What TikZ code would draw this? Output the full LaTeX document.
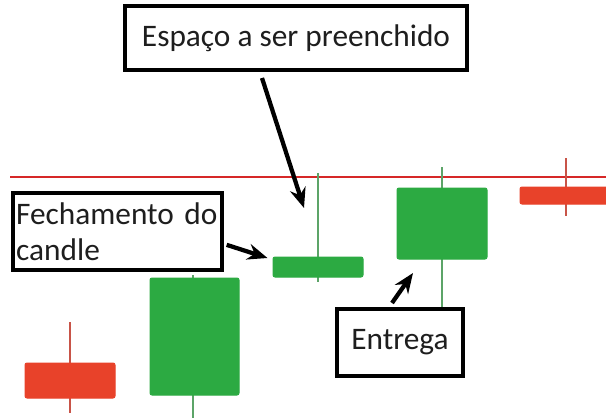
\documentclass[tikz,border=0pt]{standalone}
\usepackage{fontspec}
\setmainfont{Carlito}
\usetikzlibrary{arrows.meta}

\tikzset{every picture/.style={line width=0.75pt}}

\begin{document}
\begin{tikzpicture}[x=0.75pt,y=0.75pt,yscale=-1,xscale=1,
    greenbody/.style={fill={rgb, 255:red, 44; green, 170; blue, 66 }, draw={rgb, 255:red, 44; green, 170; blue, 66 }, rounded corners=1.5pt, inner sep=0pt},
    redbody/.style={fill={rgb, 255:red, 232; green, 66; blue, 42 }, draw={rgb, 255:red, 232; green, 66; blue, 42 }, rounded corners=1.5pt, inner sep=0pt},
    greenwick/.style={draw={rgb, 255:red, 92; green, 164; blue, 104 }, line width=1.5pt},
    redwick/.style={draw={rgb, 255:red, 200; green, 84; blue, 72 }, line width=1.5pt},
    labelbox/.style={draw=black, line width=3pt, fill=white, inner sep=4pt, text={rgb, 255:red, 30; green, 30; blue, 30 }, font=\fontsize{23.5}{27}\selectfont},
    callout/.style={draw=black, line width=3.2pt, -{Stealth[length=15pt,width=12pt]}}]
            \clip (0,0) rectangle (606,418);
            
            %Straight Lines [id:level] 
            \draw [color={rgb, 255:red, 214; green, 40; blue, 40 }  ,draw opacity=1 ][line width=1.5pt]   (10,177) -- (606,177) ;
            
            %Wicks
            \draw [redwick]   (70,322) -- (70,413) ;
            \draw [greenwick]   (193,275) -- (193,418) ;
            \draw [greenwick]   (318,173) -- (318,282) ;
            \draw [greenwick]   (442,167) -- (442,307) ;
            \draw [redwick]   (566,158) -- (566,216) ;
            
            %Shape: Rectangle [id:bodies] 
            \node [redbody, minimum width=67.5pt, minimum height=26.25pt] (c1) at (70,380.5) {};
            \node [greenbody, minimum width=66.75pt, minimum height=87.75pt] (c2) at (194.5,336.5) {};
            \node [greenbody, minimum width=67.5pt, minimum height=15pt] (c3) at (318,267) {};
            \node [greenbody, minimum width=67.5pt, minimum height=53.25pt] (c4) at (442,223.5) {};
            \node [redbody, minimum width=69pt, minimum height=12.75pt] (c5) at (566,195.5) {};
            
            %Text boxes
            \node [labelbox, minimum width=256.5pt, minimum height=48pt] (gapbox) at (296,38) {Espaço a ser preenchido};
            \node [labelbox, minimum width=156.75pt, minimum height=57.75pt, text width=152pt, align=left, inner sep=1.5pt] (closebox) at (117.5,231.5) {Fechamento do\\candle};
            \node [labelbox, minimum width=94.5pt, minimum height=50.25pt] (deliverbox) at (400,342.5) {Entrega};
            
            %Straight Lines [id:callouts] 
            \coordinate (gaptip) at (304,208) ;
            \coordinate (delivertip) at (413,273) ;
            \draw [callout]   ([xshift=-25.5pt,yshift=4.5pt]gapbox.south) -- (gaptip) ;
            \draw [callout]   ([xshift=2pt,yshift=10pt]closebox.east) -- ([xshift=-3.75pt,yshift=-6.75pt]c3.west) ;
            \draw [callout]   ([xshift=-6pt,yshift=-3pt]deliverbox.north) -- (delivertip) ;
            
\end{tikzpicture}
\end{document}
